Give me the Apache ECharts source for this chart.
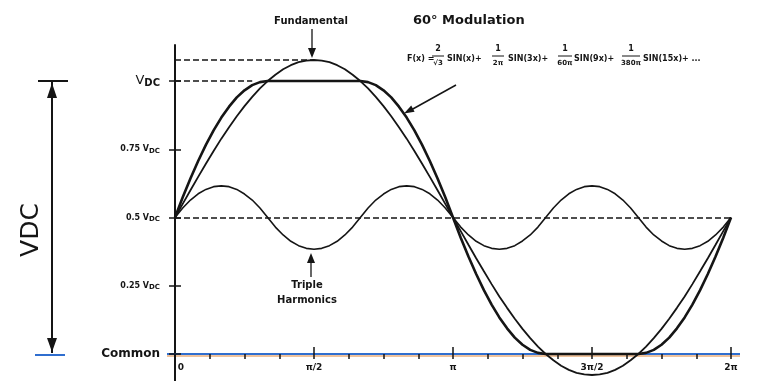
<!DOCTYPE html>
<html>
<head>
<meta charset="utf-8">
<script src="https://cdn.jsdelivr.net/npm/echarts@6/dist/echarts.min.js"></script>
<style>
html,body{margin:0;padding:0;background:#fff;}
#chart{width:767px;height:381px;}
</style>
</head>
<body>
<div id="chart"></div>
<script>
// ---- data (angle in degrees, level as fraction of VDC) ----
const angles = [0,5,10,15,20,25,30,35,40,45,50,55,60,65,70,75,80,85,90,95,100,105,110,115,120,125,130,135,140,145,150,155,160,165,170,175,180,
  185,190,195,200,205,210,215,220,225,230,235,240,245,250,255,260,265,270,275,280,285,290,295,300,305,310,315,320,325,330,335,340,345,350,355,360];

const fundamental = [0.500,0.550,0.600,0.649,0.697,0.744,0.789,0.831,0.871,0.908,0.942,0.973,1.000,1.023,1.043,1.058,1.069,1.075,1.077,1.075,1.069,1.058,1.043,1.023,1.000,0.973,0.942,0.908,0.871,0.831,0.789,0.744,0.697,0.649,0.600,0.550,0.500,
  0.450,0.400,0.351,0.303,0.256,0.211,0.169,0.129,0.092,0.058,0.027,0.000,-0.023,-0.043,-0.058,-0.069,-0.075,-0.077,-0.075,-0.069,-0.058,-0.043,-0.023,0.000,0.027,0.058,0.092,0.129,0.169,0.211,0.256,0.303,0.351,0.400,0.450,0.500];

const modulated = [0.500,0.574,0.643,0.707,0.766,0.819,0.866,0.906,0.940,0.966,0.985,0.996,1.000,1.000,1.000,1.000,1.000,1.000,1.000,1.000,1.000,1.000,1.000,1.000,1.000,0.996,0.985,0.966,0.940,0.906,0.866,0.819,0.766,0.707,0.643,0.574,0.500,
  0.426,0.357,0.293,0.234,0.181,0.134,0.094,0.060,0.034,0.015,0.004,0.000,0.000,0.000,0.000,0.000,0.000,0.000,0.000,0.000,0.000,0.000,0.000,0.000,0.004,0.015,0.034,0.060,0.094,0.134,0.181,0.234,0.293,0.357,0.426,0.500];

const tripleHarmonics = [0.500,0.535,0.564,0.587,0.603,0.613,0.616,0.613,0.603,0.586,0.564,0.535,0.500,0.465,0.436,0.413,0.397,0.387,0.384,0.387,0.397,0.413,0.436,0.465,0.500,0.535,0.564,0.586,0.603,0.613,0.616,0.613,0.603,0.587,0.564,0.535,0.500,
  0.465,0.436,0.413,0.397,0.387,0.384,0.387,0.397,0.414,0.436,0.465,0.500,0.535,0.564,0.587,0.603,0.613,0.616,0.613,0.603,0.587,0.564,0.535,0.500,0.465,0.436,0.414,0.397,0.387,0.384,0.387,0.397,0.413,0.436,0.465,0.500];

const xTickValues = [0,22.5,45,67.5,90,112.5,135,157.5,180,202.5,225,247.5,270,292.5,315,337.5,360];
const xMajorTicks = [90,180,270,360];
const xLabelValues = [0,90,180,270,360];
const xLabelTexts = ['0','π/2','π','3π/2','2π'];
const yTickValues = [0,0.25,0.5,0.75,1];
const yLabelTexts = ['{c|Common}','{s|0.25 V}{sub|DC}','{s|0.5 V}{sub|DC}','{s|0.75 V}{sub|DC}','{v|V}{vsub|DC}'];

// ---- derived reference levels ----
const fundPeak = Math.max(...fundamental);
const fundPeakAngle = angles[fundamental.indexOf(fundPeak)];
const flatStart = angles[modulated.findIndex(v => v >= 0.98)];
const midLevel = fundamental[0];
const lastAngle = angles[angles.length - 1];

const pairs = arr => angles.map((a, i) => [a, arr[i]]);

const FONT = 'DejaVu Sans';
const INK = '#151515';
const BLUE = '#2f6ecf';

const chart = echarts.init(document.getElementById('chart'), null, {renderer: 'canvas'});

function frac(cx, num, den, w) {
  return [
    {type:'text', style:{x:cx, y:49, text:num, font:'bold 8px "DejaVu Sans"', fill:INK, align:'center', verticalAlign:'middle'}},
    {type:'line', shape:{x1:cx - w/2, y1:56, x2:cx + w/2, y2:56}, style:{stroke:INK, lineWidth:1}},
    {type:'text', style:{x:cx, y:63, text:den, font:'bold 7px "DejaVu Sans"', fill:INK, align:'center', verticalAlign:'middle'}}
  ];
}
function txt(x, y, t, font, align) {
  return {type:'text', style:{x:x, y:y, text:t, font:font, fill:INK, align:align || 'left', verticalAlign:'middle'}};
}

const graphics = [
  // left VDC span indicator
  {type:'line', shape:{x1:52, y1:82, x2:52, y2:353}, style:{stroke:INK, lineWidth:2}},
  {type:'line', shape:{x1:38, y1:81, x2:68, y2:81}, style:{stroke:INK, lineWidth:2}},
  {type:'line', shape:{x1:35, y1:355, x2:65, y2:355}, style:{stroke:BLUE, lineWidth:2}},
  {type:'polygon', shape:{points:[[52,83],[47,98],[57,98]]}, style:{fill:INK}},
  {type:'polygon', shape:{points:[[52,352],[47,338],[57,338]]}, style:{fill:INK}},
  {type:'text', rotation:Math.PI/2, x:31, y:230, style:{x:0, y:0, text:'VDC', font:'25px "DejaVu Sans"', fill:INK, align:'center', verticalAlign:'middle'}},
  // y axis line continues below the common line
  {type:'line', shape:{x1:175, y1:354, x2:175, y2:381}, style:{stroke:INK, lineWidth:2}},
  // common line runs slightly past both ends of the axis
  {type:'line', z:-1, shape:{x1:167, y1:356, x2:740, y2:356}, style:{stroke:'#e0873a', lineWidth:1}},
  {type:'line', z:-1, shape:{x1:167, y1:354, x2:740, y2:354}, style:{stroke:BLUE, lineWidth:2}},
  // Fundamental annotation
  txt(311, 21, 'Fundamental', 'bold 10px "DejaVu Sans"', 'center'),
  {type:'line', shape:{x1:312, y1:29, x2:312, y2:50}, style:{stroke:INK, lineWidth:1.3}},
  {type:'polygon', shape:{points:[[312,58],[308,48],[316,48]]}, style:{fill:INK}},
  // 60° Modulation title
  txt(413, 21, '60° Modulation', 'bold 13px "DejaVu Sans"', 'left'),
  // formula
  txt(407, 59, 'F(x) =', 'bold 8px "DejaVu Sans"'),
  ...frac(438, '2', '√3', 12),
  txt(447, 59, 'SIN(x)+', 'bold 8px "DejaVu Sans"'),
  ...frac(498, '1', '2π', 12),
  txt(508, 59, 'SIN(3x)+', 'bold 8px "DejaVu Sans"'),
  ...frac(565, '1', '60π', 14),
  txt(574, 59, 'SIN(9x)+', 'bold 8px "DejaVu Sans"'),
  ...frac(631, '1', '380π', 18),
  txt(643, 59, 'SIN(15x)+ ...', 'bold 8px "DejaVu Sans"'),
  // arrow from formula to modulated waveform
  {type:'line', shape:{x1:456, y1:85, x2:411, y2:110}, style:{stroke:INK, lineWidth:1.5}},
  {type:'polygon', shape:{points:[[404,113.5],[414.6,111.8],[411.2,105.6]]}, style:{fill:INK}},
  // Triple Harmonics annotation
  {type:'line', shape:{x1:311, y1:277, x2:311, y2:262}, style:{stroke:INK, lineWidth:1.3}},
  {type:'polygon', shape:{points:[[311,253],[307,263],[315,263]]}, style:{fill:INK}},
  txt(307, 285, 'Triple', 'bold 10px "DejaVu Sans"', 'center'),
  txt(307, 300, 'Harmonics', 'bold 10px "DejaVu Sans"', 'center')
];

const option = {
  animation: false,
  backgroundColor: '#ffffff',
  textStyle: {fontFamily: FONT},
  grid: {left: 175, right: 36, top: 45, bottom: 27, containLabel: false, outerBoundsMode: 'none'},
  xAxis: [{
    type: 'value', min: 0, max: 360, position: 'bottom',
    axisLine: {onZero: false, lineStyle: {color: BLUE, width: 2}},
    axisTick: {show: true, inside: false, length: 5, customValues: xTickValues, lineStyle: {color: INK, width: 1.5}},
    axisLabel: {
      customValues: xLabelValues, margin: 9,
      formatter: v => {
        const i = xLabelValues.indexOf(v);
        if (i < 0) return '';
        return i === 0 ? '{z|' + xLabelTexts[i] + '}' : xLabelTexts[i];
      },
      color: INK, fontSize: 9, fontWeight: 'bold', fontFamily: FONT,
      rich: {z: {padding: [0, 0, 0, 12], fontSize: 9, fontWeight: 'bold', color: INK}}
    },
    splitLine: {show: false}
  }, {
    type: 'value', min: 0, max: 360, position: 'bottom',
    axisLine: {show: false, onZero: false},
    axisTick: {show: true, inside: true, length: 7, customValues: xMajorTicks, lineStyle: {color: INK, width: 1.5}},
    axisLabel: {show: false},
    splitLine: {show: false}
  }],
  yAxis: [{
    type: 'value', min: 0, max: 1.132, position: 'left',
    axisLine: {show: true, onZero: false, lineStyle: {color: INK, width: 2}},
    axisTick: {show: true, inside: false, length: 6, customValues: yTickValues, lineStyle: {color: INK, width: 1.5}},
    axisLabel: {
      customValues: yTickValues, margin: 15,
      formatter: v => {
        const i = yTickValues.indexOf(v);
        return i < 0 ? '' : yLabelTexts[i];
      },
      rich: {
        c: {fontSize: 12, fontWeight: 'bold', color: INK, fontFamily: FONT},
        s: {fontSize: 8, fontWeight: 'bold', color: INK, fontFamily: FONT},
        sub: {fontSize: 7, fontWeight: 'bold', color: INK, fontFamily: FONT, verticalAlign: 'bottom', padding: [3, 0, 0, 0]},
        v: {fontSize: 13, color: INK, fontFamily: FONT},
        vsub: {fontSize: 10, fontWeight: 'bold', color: INK, fontFamily: FONT, verticalAlign: 'bottom', padding: [4, 0, 0, 0]}
      }
    },
    splitLine: {show: false}
  }, {
    type: 'value', min: 0, max: 1.132, position: 'left',
    axisLine: {show: false, onZero: false},
    axisTick: {show: true, inside: true, length: 6, customValues: yTickValues, lineStyle: {color: INK, width: 1.5}},
    axisLabel: {show: false},
    splitLine: {show: false}
  }],
  series: [{
    name: 'Fundamental', type: 'line', xAxisIndex: 0, yAxisIndex: 0,
    data: pairs(fundamental), showSymbol: false, smooth: false, clip: false,
    lineStyle: {color: INK, width: 1.8}, z: 3,
    markLine: {
      silent: true, symbol: ['none', 'none'], label: {show: false},
      lineStyle: {color: INK, type: [6, 3], width: 1.6},
      data: [
        [{coord: [0, fundPeak]}, {coord: [fundPeakAngle, fundPeak]}],
        [{coord: [0, 1]}, {coord: [flatStart, 1]}],
        [{coord: [0, midLevel]}, {coord: [lastAngle, midLevel]}]
      ]
    }
  }, {
    name: '60° Modulation', type: 'line', xAxisIndex: 0, yAxisIndex: 0,
    data: pairs(modulated), showSymbol: false, smooth: false, clip: false,
    lineStyle: {color: INK, width: 2.6}, z: 4
  }, {
    name: 'Triple Harmonics', type: 'line', xAxisIndex: 0, yAxisIndex: 0,
    data: pairs(tripleHarmonics), showSymbol: false, smooth: false, clip: false,
    lineStyle: {color: INK, width: 1.6}, z: 3
  }],
  graphic: graphics
};
chart.setOption(option);
</script>
</body>
</html>
